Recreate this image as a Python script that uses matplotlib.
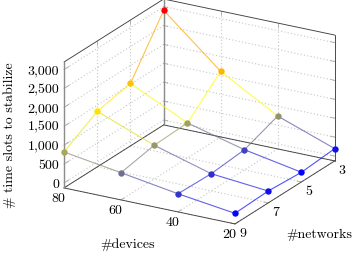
import matplotlib
matplotlib.use('Agg')
import matplotlib.pyplot as plt
from matplotlib.colors import LinearSegmentedColormap, Normalize
import numpy as np

plt.rcParams['font.family'] = ['cmr10', 'DejaVu Serif']
plt.rcParams['axes.formatter.use_mathtext'] = True

devices = [80, 60, 40, 20]
networks = [9, 7, 5, 3]
# one row per network, same order as devices
slots_n9 = [820, 590, 350, 150]
slots_n7 = [1340, 760, 325, 185]
slots_n5 = [1525, 795, 405, 125]
slots_n3 = [2900, 1605, 740, 195]
z_ticks = [0, 500, 1000, 1500, 2000, 2500, 3000]
z_labels = ['0', '500', '1,000', '1,500', '2,000', '2,500', '3,000']

Z = np.array([slots_n9, slots_n7, slots_n5, slots_n3])
Z_MIN, Z_MAX = -130, 3200


# pgfplots style axonometric view, result in pixels of the figure
def proj(d, n, z):
    px = 64 + (80 - d) / 60 * 171 + (9 - n) / 6 * 99.7
    py = 183 + (80 - d) / 60 * 36 - (9 - n) / 6 * 63 - z * 0.0378
    return px, py


fig = plt.figure(figsize=(3.56, 2.56), dpi=100)
ax = fig.add_axes([0, 0, 1, 1])
ax.set_xlim(0, 356)
ax.set_ylim(256, 0)
ax.axis('off')


def seg(p, q, **kw):
    ax.plot([p[0], q[0]], [p[1], q[1]], solid_capstyle='round', **kw)


grid = dict(color='#c6c6c6', lw=0.8, ls=(0, (1, 2.0)), zorder=1)
tick = dict(color='#a8a8a8', lw=0.6, zorder=1.5)

# walls and floor grid
for d in devices:
    seg(proj(d, 9, Z_MIN), proj(d, 3, Z_MIN), **grid)
    seg(proj(d, 3, Z_MIN), proj(d, 3, Z_MAX), **grid)
for n in networks:
    seg(proj(80, n, Z_MIN), proj(20, n, Z_MIN), **grid)
    seg(proj(80, n, Z_MIN), proj(80, n, Z_MAX), **grid)
for z in z_ticks:
    seg(proj(80, 9, z), proj(80, 3, z), **grid)
    seg(proj(80, 3, z), proj(20, 3, z), **grid)

# short ticks on the box edges
for z in z_ticks:
    seg(proj(80, 9, z), proj(80, 8.7, z), **tick)
    seg(proj(20, 3, z), proj(21.5, 3, z), **tick)
    seg(proj(80, 3, z), proj(78.5, 3, z), **tick)
for d in devices:
    seg(proj(d, 9, Z_MIN), proj(d, 8.8, Z_MIN), **tick)
    seg(proj(d, 3, Z_MAX), proj(d, 3, Z_MAX - 100), **tick)
for n in networks:
    seg(proj(20, n, Z_MIN), proj(21.5, n, Z_MIN), **tick)
    seg(proj(80, n, Z_MAX), proj(80, n, Z_MAX - 100), **tick)

# box
dark = dict(color='#404040', lw=0.65, zorder=2)
seg(proj(80, 9, Z_MIN), proj(80, 3, Z_MIN), **dark)
seg(proj(80, 3, Z_MIN), proj(20, 3, Z_MIN), **dark)
seg(proj(80, 9, Z_MIN), proj(20, 9, Z_MIN), **dark)
seg(proj(20, 9, Z_MIN), proj(20, 3, Z_MIN), **dark)
seg(proj(80, 9, Z_MAX), proj(80, 3, Z_MAX), **dark)
seg(proj(80, 3, Z_MAX), proj(20, 3, Z_MAX), **dark)
seg(proj(20, 3, Z_MIN), proj(20, 3, Z_MAX), **dark)
grey = dict(color='#8c8c8c', lw=1.0, zorder=2)
seg(proj(80, 9, Z_MIN), proj(80, 9, Z_MAX), **grey)
seg(proj(80, 3, Z_MIN), proj(80, 3, Z_MAX), **grey)

# mesh, markers and lines read a bit differently in the picture so two maps
cmap_pts = LinearSegmentedColormap.from_list(
    'pts', [(0, '#0000ff'), (0.38, '#ffff00'), (0.57, '#fba500'), (1, '#ff0000')])
cmap_lines = LinearSegmentedColormap.from_list(
    'lines', [(0, '#0000ff'), (0.38, '#ffff00'), (0.77, '#ffa500'), (1, '#ff0000')])
norm = Normalize(Z.min(), Z.max())
for i in range(len(networks)):
    for j in range(len(devices)):
        p = proj(devices[j], networks[i], Z[i, j])
        if j + 1 < len(devices):
            q = proj(devices[j + 1], networks[i], Z[i, j + 1])
            seg(p, q, color=cmap_lines(norm((Z[i, j] + Z[i, j + 1]) / 2)), lw=0.8, alpha=0.7, zorder=3)
        if i + 1 < len(networks):
            q = proj(devices[j], networks[i + 1], Z[i + 1, j])
            seg(p, q, color=cmap_lines(norm((Z[i, j] + Z[i + 1, j]) / 2)), lw=0.8, alpha=0.7, zorder=3)

for i in range(len(networks)):
    for j in range(len(devices)):
        p = proj(devices[j], networks[i], Z[i, j])
        ax.plot(p[0], p[1], 'o', ms=4.6, mew=0, color=cmap_pts(norm(Z[i, j])), zorder=4)

# labels
fs = 10
for z, lab in zip(z_ticks, z_labels):
    p = proj(80, 9, z)
    ax.text(p[0] - 5, p[1] + 1.5, lab, ha='right', va='center', fontsize=fs)
for d in devices:
    p = proj(d, 9, Z_MIN)
    ax.text(p[0] - 6, p[1] + 11, str(d), ha='center', va='center', fontsize=fs)
for n in networks:
    p = proj(20, n, Z_MIN)
    ax.text(p[0] + 7.5, p[1] + 10.5, str(n), ha='center', va='center', fontsize=fs)

ax.text(128, 245, '#devices', ha='center', va='center', fontsize=fs)
ax.text(319, 235, '#networks', ha='center', va='center', fontsize=fs)
ax.text(10, 135, '# time slots to stabilize', rotation=90, ha='center', va='center', fontsize=fs)

fig.savefig('out.png', dpi=100)
